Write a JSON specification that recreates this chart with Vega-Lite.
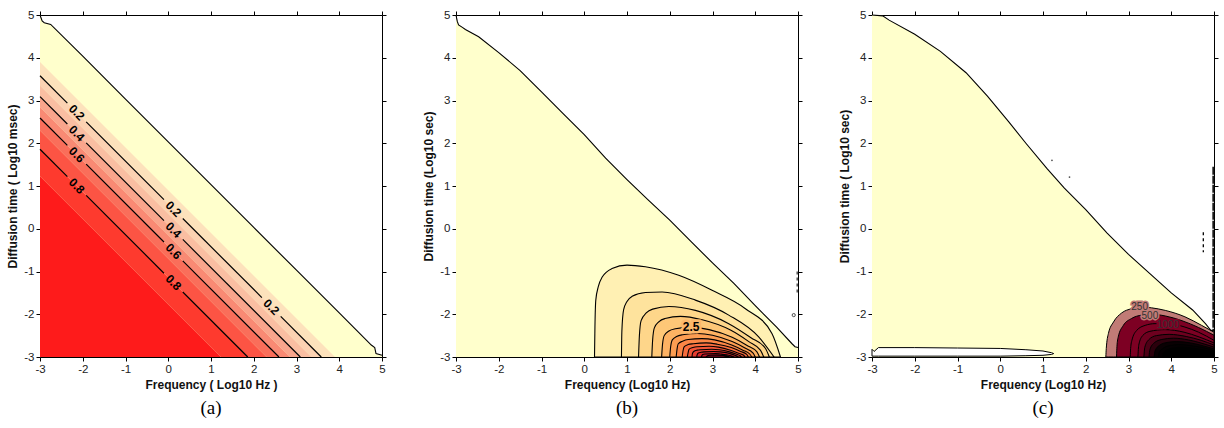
{
  "$schema": "https://vega.github.io/schema/vega-lite/v6.json",
  "bounds": "flush",
  "spacing": 74,
  "padding": {"left": 6, "top": 9, "right": 0, "bottom": 0},
  "background": "white",
  "config": {
    "view": {"stroke": null},
    "axis": {"grid": false, "zindex": 1, "domainColor": "#000", "tickColor": "#000", "tickSize": 4, "labelFont": "Liberation Sans", "labelFontSize": 11.5, "labelColor": "#222", "labelPadding": 2, "labelFlush": false, "titleFont": "Liberation Sans", "titleFontSize": 12, "titleFontWeight": "bold", "titleColor": "#111"},
    "text": {"font": "Liberation Sans"}
  },
  "resolve": {"scale": {"color": "independent", "stroke": "independent", "fill": "independent", "x": "independent", "y": "independent"}},
  "datasets": {
    "a_bound": [
      {"x": -3, "y": 5}, {"x": -2.95, "y": 4.86}, {"x": -2.9, "y": 4.82}, {"x": -2.75, "y": 4.78}, {"x": -2, "y": 4.04}, {"x": -1, "y": 3.03}, {"x": 0, "y": 2.03}, {"x": 1, "y": 1.03}, {"x": 2, "y": 0.03}, {"x": 3, "y": -0.97}, {"x": 4, "y": -1.97}, {"x": 4.75, "y": -2.72}, {"x": 4.83, "y": -2.78}, {"x": 4.86, "y": -2.92}, {"x": 5, "y": -2.96}
    ],
    "a_bands": [
      {"x": -3, "y": 3.9, "y2": 3.58, "band": "b1"}, {"x": 3.58, "y": -2.68, "y2": -3, "band": "b1"}, {"x": 3.9, "y": -3, "y2": -3, "band": "b1"},
      {"x": -3, "y": 3.58, "y2": 3.35, "band": "b2"}, {"x": 3.35, "y": -2.77, "y2": -3, "band": "b2"}, {"x": 3.58, "y": -3, "y2": -3, "band": "b2"},
      {"x": -3, "y": 3.35, "y2": 3.09, "band": "b3"}, {"x": 3.09, "y": -2.74, "y2": -3, "band": "b3"}, {"x": 3.35, "y": -3, "y2": -3, "band": "b3"},
      {"x": -3, "y": 3.09, "y2": 2.85, "band": "b4"}, {"x": 2.85, "y": -2.76, "y2": -3, "band": "b4"}, {"x": 3.09, "y": -3, "y2": -3, "band": "b4"},
      {"x": -3, "y": 2.85, "y2": 2.59, "band": "b5"}, {"x": 2.59, "y": -2.74, "y2": -3, "band": "b5"}, {"x": 2.85, "y": -3, "y2": -3, "band": "b5"},
      {"x": -3, "y": 2.59, "y2": 2.3, "band": "b6"}, {"x": 2.3, "y": -2.71, "y2": -3, "band": "b6"}, {"x": 2.59, "y": -3, "y2": -3, "band": "b6"},
      {"x": -3, "y": 2.3, "y2": 1.86, "band": "b7"}, {"x": 1.86, "y": -2.56, "y2": -3, "band": "b7"}, {"x": 2.3, "y": -3, "y2": -3, "band": "b7"},
      {"x": -3, "y": 1.86, "y2": 1.23, "band": "b8"}, {"x": 1.23, "y": -2.37, "y2": -3, "band": "b8"}, {"x": 1.86, "y": -3, "y2": -3, "band": "b8"},
      {"x": -3, "y": 1.23, "y2": -3, "band": "b9"}, {"x": 1.23, "y": -3, "y2": -3, "band": "b9"}
    ],
    "a_lines": [
      {"x": -3, "y": 3.58, "seg": "s1a"}, {"x": -2.36, "y": 2.94, "seg": "s1a"},
      {"x": -1.92, "y": 2.5, "seg": "s1b"}, {"x": -0.1, "y": 0.68, "seg": "s1b"},
      {"x": 0.34, "y": 0.24, "seg": "s1c"}, {"x": 2.19, "y": -1.61, "seg": "s1c"},
      {"x": 2.63, "y": -2.05, "seg": "s1d"}, {"x": 3.58, "y": -3, "seg": "s1d"},
      {"x": -3, "y": 3.09, "seg": "s2a"}, {"x": -2.36, "y": 2.45, "seg": "s2a"},
      {"x": -1.92, "y": 2.01, "seg": "s2b"}, {"x": -0.1, "y": 0.19, "seg": "s2b"},
      {"x": 0.34, "y": -0.25, "seg": "s2c"}, {"x": 3.09, "y": -3, "seg": "s2c"},
      {"x": -3, "y": 2.59, "seg": "s3a"}, {"x": -2.36, "y": 1.95, "seg": "s3a"},
      {"x": -1.92, "y": 1.51, "seg": "s3b"}, {"x": -0.1, "y": -0.31, "seg": "s3b"},
      {"x": 0.34, "y": -0.75, "seg": "s3c"}, {"x": 2.59, "y": -3, "seg": "s3c"},
      {"x": -3, "y": 1.86, "seg": "s4a"}, {"x": -2.36, "y": 1.22, "seg": "s4a"},
      {"x": -1.92, "y": 0.78, "seg": "s4b"}, {"x": -0.1, "y": -1.04, "seg": "s4b"},
      {"x": 0.34, "y": -1.48, "seg": "s4c"}, {"x": 1.86, "y": -3, "seg": "s4c"}
    ],
    "a_labels": [
      {"x": -2.14, "y": 2.72, "t": "0.2"}, {"x": 0.12, "y": 0.46, "t": "0.2"}, {"x": 2.41, "y": -1.83, "t": "0.2"},
      {"x": -2.14, "y": 2.23, "t": "0.4"}, {"x": 0.12, "y": -0.03, "t": "0.4"},
      {"x": -2.14, "y": 1.73, "t": "0.6"}, {"x": 0.12, "y": -0.53, "t": "0.6"},
      {"x": -2.14, "y": 1.0, "t": "0.8"}, {"x": 0.12, "y": -1.26, "t": "0.8"}
    ],
    "b_bound": [
      {"x": -3, "y": 5}, {"x": -2.97, "y": 4.85}, {"x": -2.94, "y": 4.77}, {"x": -2.85, "y": 4.71}, {"x": -2.78, "y": 4.66}, {"x": -2.47, "y": 4.49}, {"x": -2.0, "y": 4.12}, {"x": -1.5, "y": 3.7}, {"x": -1.0, "y": 3.2}, {"x": -0.5, "y": 2.7}, {"x": 0, "y": 2.2}, {"x": 0.5, "y": 1.65}, {"x": 1.0, "y": 1.15}, {"x": 1.5, "y": 0.67}, {"x": 2.0, "y": 0.2}, {"x": 2.5, "y": -0.3}, {"x": 3.0, "y": -0.8}, {"x": 3.5, "y": -1.28}, {"x": 4.0, "y": -1.8}, {"x": 4.5, "y": -2.3}, {"x": 4.86, "y": -2.69}, {"x": 4.93, "y": -2.76}, {"x": 5, "y": -2.78}
    ],
    "b_cont": [
      {"x": 0.24, "y": -3, "lvl": "c01"}, {"x": 0.25, "y": -2.3, "lvl": "c01"}, {"x": 0.27, "y": -1.67, "lvl": "c01"}, {"x": 0.33, "y": -1.35, "lvl": "c01"}, {"x": 0.42, "y": -1.13, "lvl": "c01"}, {"x": 0.65, "y": -0.93, "lvl": "c01"}, {"x": 1.0, "y": -0.85, "lvl": "c01"}, {"x": 1.43, "y": -0.89, "lvl": "c01"}, {"x": 2.21, "y": -1.09, "lvl": "c01"}, {"x": 2.99, "y": -1.44, "lvl": "c01"}, {"x": 3.77, "y": -1.87, "lvl": "c01"}, {"x": 4.39, "y": -2.45, "lvl": "c01"}, {"x": 4.59, "y": -3, "lvl": "c01"},
      {"x": 0.87, "y": -3, "lvl": "c02"}, {"x": 0.88, "y": -2.4, "lvl": "c02"}, {"x": 0.92, "y": -1.9, "lvl": "c02"}, {"x": 1.0, "y": -1.7, "lvl": "c02"}, {"x": 1.12, "y": -1.58, "lvl": "c02"}, {"x": 1.43, "y": -1.49, "lvl": "c02"}, {"x": 1.82, "y": -1.48, "lvl": "c02"}, {"x": 2.6, "y": -1.67, "lvl": "c02"}, {"x": 3.38, "y": -2.02, "lvl": "c02"}, {"x": 4.08, "y": -2.53, "lvl": "c02"}, {"x": 4.44, "y": -3, "lvl": "c02"},
      {"x": 1.27, "y": -3, "lvl": "c03"}, {"x": 1.29, "y": -2.5, "lvl": "c03"}, {"x": 1.33, "y": -2.15, "lvl": "c03"}, {"x": 1.45, "y": -1.97, "lvl": "c03"}, {"x": 1.6, "y": -1.88, "lvl": "c03"}, {"x": 1.98, "y": -1.82, "lvl": "c03"}, {"x": 2.6, "y": -1.91, "lvl": "c03"}, {"x": 3.38, "y": -2.22, "lvl": "c03"}, {"x": 3.9, "y": -2.55, "lvl": "c03"}, {"x": 4.24, "y": -2.8, "lvl": "c03"}, {"x": 4.33, "y": -3, "lvl": "c03"},
      {"x": 1.58, "y": -3, "lvl": "c04"}, {"x": 1.6, "y": -2.6, "lvl": "c04"}, {"x": 1.64, "y": -2.32, "lvl": "c04"}, {"x": 1.75, "y": -2.17, "lvl": "c04"}, {"x": 1.89, "y": -2.1, "lvl": "c04"}, {"x": 2.25, "y": -2.05, "lvl": "c04"}, {"x": 2.76, "y": -2.13, "lvl": "c04"}, {"x": 3.42, "y": -2.37, "lvl": "c04"}, {"x": 3.85, "y": -2.64, "lvl": "c04"}, {"x": 4.12, "y": -2.84, "lvl": "c04"}, {"x": 4.2, "y": -3, "lvl": "c04"},
      {"x": 1.81, "y": -3, "lvl": "c05"}, {"x": 1.83, "y": -2.71, "lvl": "c05"}, {"x": 1.87, "y": -2.5, "lvl": "c05"}, {"x": 1.98, "y": -2.39, "lvl": "c05"}, {"x": 2.13, "y": -2.34, "lvl": "c05"}, {"x": 2.5, "y": -2.3, "lvl": "c05"}, {"x": 2.92, "y": -2.36, "lvl": "c05"}, {"x": 3.46, "y": -2.54, "lvl": "c05"}, {"x": 3.81, "y": -2.73, "lvl": "c05"}, {"x": 4.04, "y": -2.88, "lvl": "c05"}, {"x": 4.1, "y": -3, "lvl": "c05"},
      {"x": 2.0, "y": -3, "lvl": "c06"}, {"x": 2.02, "y": -2.77, "lvl": "c06"}, {"x": 2.06, "y": -2.6, "lvl": "c06"}, {"x": 2.16, "y": -2.52, "lvl": "c06"}, {"x": 2.3, "y": -2.48, "lvl": "c06"}, {"x": 2.65, "y": -2.45, "lvl": "c06"}, {"x": 3.0, "y": -2.49, "lvl": "c06"}, {"x": 3.46, "y": -2.64, "lvl": "c06"}, {"x": 3.76, "y": -2.79, "lvl": "c06"}, {"x": 3.95, "y": -2.91, "lvl": "c06"}, {"x": 4.0, "y": -3, "lvl": "c06"},
      {"x": 2.15, "y": -3, "lvl": "c07"}, {"x": 2.17, "y": -2.82, "lvl": "c07"}, {"x": 2.2, "y": -2.69, "lvl": "c07"}, {"x": 2.3, "y": -2.63, "lvl": "c07"}, {"x": 2.43, "y": -2.59, "lvl": "c07"}, {"x": 2.75, "y": -2.57, "lvl": "c07"}, {"x": 3.05, "y": -2.6, "lvl": "c07"}, {"x": 3.45, "y": -2.72, "lvl": "c07"}, {"x": 3.71, "y": -2.84, "lvl": "c07"}, {"x": 3.87, "y": -2.93, "lvl": "c07"}, {"x": 3.92, "y": -3, "lvl": "c07"},
      {"x": 2.29, "y": -3, "lvl": "c08"}, {"x": 2.31, "y": -2.86, "lvl": "c08"}, {"x": 2.34, "y": -2.76, "lvl": "c08"}, {"x": 2.43, "y": -2.71, "lvl": "c08"}, {"x": 2.55, "y": -2.69, "lvl": "c08"}, {"x": 2.85, "y": -2.67, "lvl": "c08"}, {"x": 3.11, "y": -2.7, "lvl": "c08"}, {"x": 3.44, "y": -2.78, "lvl": "c08"}, {"x": 3.66, "y": -2.87, "lvl": "c08"}, {"x": 3.8, "y": -2.94, "lvl": "c08"}, {"x": 3.84, "y": -3, "lvl": "c08"},
      {"x": 2.41, "y": -3, "lvl": "c09"}, {"x": 2.43, "y": -2.9, "lvl": "c09"}, {"x": 2.45, "y": -2.82, "lvl": "c09"}, {"x": 2.54, "y": -2.78, "lvl": "c09"}, {"x": 2.64, "y": -2.76, "lvl": "c09"}, {"x": 2.92, "y": -2.75, "lvl": "c09"}, {"x": 3.14, "y": -2.77, "lvl": "c09"}, {"x": 3.42, "y": -2.84, "lvl": "c09"}, {"x": 3.61, "y": -2.91, "lvl": "c09"}, {"x": 3.73, "y": -2.96, "lvl": "c09"}, {"x": 3.76, "y": -3, "lvl": "c09"},
      {"x": 2.52, "y": -3, "lvl": "c10"}, {"x": 2.53, "y": -2.92, "lvl": "c10"}, {"x": 2.56, "y": -2.87, "lvl": "c10"}, {"x": 2.64, "y": -2.84, "lvl": "c10"}, {"x": 2.73, "y": -2.83, "lvl": "c10"}, {"x": 2.98, "y": -2.82, "lvl": "c10"}, {"x": 3.16, "y": -2.83, "lvl": "c10"}, {"x": 3.4, "y": -2.88, "lvl": "c10"}, {"x": 3.55, "y": -2.93, "lvl": "c10"}, {"x": 3.65, "y": -2.97, "lvl": "c10"}, {"x": 3.68, "y": -3, "lvl": "c10"},
      {"x": 2.63, "y": -3, "lvl": "c11"}, {"x": 2.64, "y": -2.95, "lvl": "c11"}, {"x": 2.66, "y": -2.91, "lvl": "c11"}, {"x": 2.73, "y": -2.89, "lvl": "c11"}, {"x": 2.81, "y": -2.88, "lvl": "c11"}, {"x": 3.03, "y": -2.87, "lvl": "c11"}, {"x": 3.18, "y": -2.88, "lvl": "c11"}, {"x": 3.37, "y": -2.91, "lvl": "c11"}, {"x": 3.5, "y": -2.95, "lvl": "c11"}, {"x": 3.58, "y": -2.98, "lvl": "c11"}, {"x": 3.6, "y": -3, "lvl": "c11"},
      {"x": 2.74, "y": -3, "lvl": "c12"}, {"x": 2.75, "y": -2.97, "lvl": "c12"}, {"x": 2.77, "y": -2.94, "lvl": "c12"}, {"x": 2.82, "y": -2.93, "lvl": "c12"}, {"x": 3.07, "y": -2.92, "lvl": "c12"}, {"x": 3.18, "y": -2.93, "lvl": "c12"}, {"x": 3.33, "y": -2.95, "lvl": "c12"}, {"x": 3.48, "y": -2.99, "lvl": "c12"}, {"x": 3.5, "y": -3, "lvl": "c12"},
      {"x": 2.85, "y": -3, "lvl": "c13"}, {"x": 2.88, "y": -2.97, "lvl": "c13"}, {"x": 2.95, "y": -2.96, "lvl": "c13"}, {"x": 3.1, "y": -2.955, "lvl": "c13"}, {"x": 3.25, "y": -2.965, "lvl": "c13"}, {"x": 3.35, "y": -2.98, "lvl": "c13"}, {"x": 3.4, "y": -3, "lvl": "c13"}
    ],
    "b_label": [{"x": 2.5, "y": -2.3, "t": "2.5"}],
    "b_dot": [{"x": 4.9, "y": -2.02}],
    "b_dash": [{"x": 4.98, "y": -1.0}, {"x": 4.98, "y": -1.5}],
    "c_bound": [
      {"x": -3, "y": 5}, {"x": -2.75, "y": 4.98}, {"x": -2.6, "y": 4.88}, {"x": -2.0, "y": 4.55}, {"x": -1.4, "y": 4.15}, {"x": -0.8, "y": 3.65}, {"x": -0.3, "y": 3.1}, {"x": 0.2, "y": 2.5}, {"x": 0.6, "y": 2.0}, {"x": 1.1, "y": 1.4}, {"x": 1.5, "y": 0.95}, {"x": 2.0, "y": 0.45}, {"x": 2.5, "y": -0.1}, {"x": 3.0, "y": -0.6}, {"x": 3.5, "y": -1.05}, {"x": 4.0, "y": -1.5}, {"x": 4.5, "y": -1.9}, {"x": 4.8, "y": -2.22}, {"x": 4.92, "y": -2.37}, {"x": 5, "y": -2.4}
    ],
    "c_cont": [
      {"x": 2.47, "y": -3, "lvl": "k01"}, {"x": 2.48, "y": -2.8, "lvl": "k01"}, {"x": 2.53, "y": -2.45, "lvl": "k01"}, {"x": 2.65, "y": -2.18, "lvl": "k01"}, {"x": 2.84, "y": -1.97, "lvl": "k01"}, {"x": 3.07, "y": -1.87, "lvl": "k01"}, {"x": 3.31, "y": -1.83, "lvl": "k01"}, {"x": 3.54, "y": -1.85, "lvl": "k01"}, {"x": 3.86, "y": -1.91, "lvl": "k01"}, {"x": 4.32, "y": -2.06, "lvl": "k01"}, {"x": 4.71, "y": -2.26, "lvl": "k01"}, {"x": 5, "y": -2.42, "lvl": "k01"},
      {"x": 2.72, "y": -3, "lvl": "k02"}, {"x": 2.73, "y": -2.75, "lvl": "k02"}, {"x": 2.76, "y": -2.53, "lvl": "k02"}, {"x": 2.88, "y": -2.26, "lvl": "k02"}, {"x": 3.07, "y": -2.1, "lvl": "k02"}, {"x": 3.31, "y": -2.02, "lvl": "k02"}, {"x": 3.54, "y": -2.0, "lvl": "k02"}, {"x": 3.86, "y": -2.04, "lvl": "k02"}, {"x": 4.25, "y": -2.15, "lvl": "k02"}, {"x": 4.64, "y": -2.31, "lvl": "k02"}, {"x": 5, "y": -2.49, "lvl": "k02"},
      {"x": 3.04, "y": -3, "lvl": "k03"}, {"x": 3.05, "y": -2.8, "lvl": "k03"}, {"x": 3.08, "y": -2.61, "lvl": "k03"}, {"x": 3.19, "y": -2.38, "lvl": "k03"}, {"x": 3.39, "y": -2.26, "lvl": "k03"}, {"x": 3.62, "y": -2.22, "lvl": "k03"}, {"x": 3.93, "y": -2.22, "lvl": "k03"}, {"x": 4.32, "y": -2.3, "lvl": "k03"}, {"x": 4.64, "y": -2.42, "lvl": "k03"}, {"x": 5, "y": -2.61, "lvl": "k03"},
      {"x": 3.22, "y": -3, "lvl": "k04"}, {"x": 3.24, "y": -2.72, "lvl": "k04"}, {"x": 3.33, "y": -2.5, "lvl": "k04"}, {"x": 3.5, "y": -2.4, "lvl": "k04"}, {"x": 3.85, "y": -2.36, "lvl": "k04"}, {"x": 4.3, "y": -2.42, "lvl": "k04"}, {"x": 4.65, "y": -2.53, "lvl": "k04"}, {"x": 5, "y": -2.67, "lvl": "k04"},
      {"x": 3.36, "y": -3, "lvl": "k05"}, {"x": 3.38, "y": -2.78, "lvl": "k05"}, {"x": 3.47, "y": -2.6, "lvl": "k05"}, {"x": 3.65, "y": -2.5, "lvl": "k05"}, {"x": 3.95, "y": -2.47, "lvl": "k05"}, {"x": 4.35, "y": -2.52, "lvl": "k05"}, {"x": 4.7, "y": -2.61, "lvl": "k05"}, {"x": 5, "y": -2.72, "lvl": "k05"},
      {"x": 3.48, "y": -3, "lvl": "k06"}, {"x": 3.5, "y": -2.83, "lvl": "k06"}, {"x": 3.6, "y": -2.67, "lvl": "k06"}, {"x": 3.78, "y": -2.59, "lvl": "k06"}, {"x": 4.05, "y": -2.56, "lvl": "k06"}, {"x": 4.4, "y": -2.6, "lvl": "k06"}, {"x": 4.72, "y": -2.68, "lvl": "k06"}, {"x": 5, "y": -2.77, "lvl": "k06"},
      {"x": 3.6, "y": -3, "lvl": "k07"}, {"x": 3.62, "y": -2.86, "lvl": "k07"}, {"x": 3.72, "y": -2.73, "lvl": "k07"}, {"x": 3.9, "y": -2.66, "lvl": "k07"}, {"x": 4.12, "y": -2.64, "lvl": "k07"}, {"x": 4.45, "y": -2.67, "lvl": "k07"}, {"x": 4.75, "y": -2.74, "lvl": "k07"}, {"x": 5, "y": -2.81, "lvl": "k07"},
      {"x": 3.7, "y": -3, "lvl": "k08"}, {"x": 3.72, "y": -2.89, "lvl": "k08"}, {"x": 3.82, "y": -2.79, "lvl": "k08"}, {"x": 3.98, "y": -2.73, "lvl": "k08"}, {"x": 4.2, "y": -2.71, "lvl": "k08"}, {"x": 4.5, "y": -2.74, "lvl": "k08"}, {"x": 4.78, "y": -2.79, "lvl": "k08"}, {"x": 5, "y": -2.85, "lvl": "k08"},
      {"x": 3.8, "y": -3, "lvl": "k09"}, {"x": 3.82, "y": -2.91, "lvl": "k09"}, {"x": 3.92, "y": -2.83, "lvl": "k09"}, {"x": 4.06, "y": -2.79, "lvl": "k09"}, {"x": 4.26, "y": -2.77, "lvl": "k09"}, {"x": 4.55, "y": -2.8, "lvl": "k09"}, {"x": 5, "y": -2.88, "lvl": "k09"},
      {"x": 3.88, "y": -3, "lvl": "k10"}, {"x": 3.9, "y": -2.93, "lvl": "k10"}, {"x": 4.0, "y": -2.87, "lvl": "k10"}, {"x": 4.15, "y": -2.84, "lvl": "k10"}, {"x": 4.32, "y": -2.83, "lvl": "k10"}, {"x": 4.6, "y": -2.85, "lvl": "k10"}, {"x": 5, "y": -2.91, "lvl": "k10"},
      {"x": 3.96, "y": -3, "lvl": "k11"}, {"x": 4.0, "y": -2.93, "lvl": "k11"}, {"x": 4.12, "y": -2.89, "lvl": "k11"}, {"x": 4.35, "y": -2.88, "lvl": "k11"}, {"x": 4.65, "y": -2.9, "lvl": "k11"}, {"x": 5, "y": -2.94, "lvl": "k11"}
    ],
    "c_lens": [
      {"x": -3, "y": -2.82, "y2": -2.98}, {"x": -2.95, "y": -2.87, "y2": -2.98}, {"x": -2.85, "y": -2.78, "y2": -2.98}, {"x": -2, "y": -2.78, "y2": -2.98}, {"x": -1, "y": -2.79, "y2": -2.98}, {"x": 0, "y": -2.8, "y2": -2.98}, {"x": 0.6, "y": -2.83, "y2": -2.97}, {"x": 1.0, "y": -2.86, "y2": -2.96}, {"x": 1.2, "y": -2.9, "y2": -2.94}, {"x": 1.25, "y": -2.92, "y2": -2.92}
    ],
    "c_labels": [{"x": 3.26, "y": -1.83, "t": "250"}, {"x": 3.5, "y": -2.04, "t": "500"}, {"x": 3.92, "y": -2.24, "t": "1000"}],
    "c_dots": [{"x": 1.21, "y": 1.6}, {"x": 1.62, "y": 1.21}],
    "c_edge": [{"x": 4.98, "y": 1.45}, {"x": 4.98, "y": -2.4}],
    "c_dash": [{"x": 4.75, "y": -0.08}, {"x": 4.75, "y": -0.55}]
  },
  "hconcat": [
    {
      "width": 342, "height": 342,
      "title": {"text": "(a)", "orient": "bottom", "font": "Liberation Serif", "fontSize": 19, "fontWeight": "normal", "color": "#000", "offset": 8},
      "resolve": {"axis": {"x": "independent", "y": "independent"}},
      "layer": [
        {
          "encoding": {
            "x": {"field": "x", "type": "quantitative", "scale": {"domain": [-3, 5], "nice": false, "zero": false}, "axis": {"title": "Frequency ( Log10 Hz )", "values": [-3, -2, -1, 0, 1, 2, 3, 4, 5], "labelExpr": "'' + datum.value", "titlePadding": 5}},
            "y": {"field": "y", "type": "quantitative", "scale": {"domain": [-3, 5], "nice": false, "zero": false}, "axis": {"title": "Diffusion time ( Log10 msec)", "values": [-3, -2, -1, 0, 1, 2, 3, 4, 5], "labelExpr": "'' + datum.value", "titlePadding": 4}}
          },
          "layer": [
            {"data": {"name": "a_bound"}, "mark": {"type": "area", "color": "#FFFFCC"}, "encoding": {"y2": {"datum": -3}}},
            {"data": {"name": "a_bands"}, "mark": {"type": "area"}, "encoding": {"y2": {"field": "y2"}, "color": {"field": "band", "type": "nominal", "legend": null, "scale": {"domain": ["b1", "b2", "b3", "b4", "b5", "b6", "b7", "b8", "b9"], "range": ["#FDE2BC", "#FCD2B2", "#FABEA2", "#F9A58C", "#F98A74", "#FA6E5A", "#FC5444", "#FE3A2E", "#FE1B1B"]}}}},
            {"data": {"name": "a_lines"}, "mark": {"type": "line", "color": "#000", "strokeWidth": 1.2}, "encoding": {"detail": {"field": "seg"}}},
            {"data": {"name": "a_bound"}, "mark": {"type": "line", "color": "#000", "strokeWidth": 1.1}, "encoding": {}},
            {"data": {"name": "a_labels"}, "mark": {"type": "text", "angle": 45, "fontWeight": "bold", "fontSize": 12, "color": "#000", "align": "center", "baseline": "middle"}, "encoding": {"text": {"field": "t"}}}
          ]
        },
        {
          "data": {"name": "a_bound"},
          "mark": {"type": "point", "opacity": 0},
          "encoding": {
            "x": {"field": "x", "type": "quantitative", "scale": {"domain": [-3, 5], "nice": false, "zero": false}, "axis": {"orient": "top", "title": null, "labels": false, "values": [-3, -2, -1, 0, 1, 2, 3, 4, 5]}},
            "y": {"field": "y", "type": "quantitative", "scale": {"domain": [-3, 5], "nice": false, "zero": false}, "axis": {"orient": "right", "title": null, "labels": false, "values": [-3, -2, -1, 0, 1, 2, 3, 4, 5]}}
          }
        }
      ]
    },
    {
      "width": 342, "height": 342,
      "title": {"text": "(b)", "orient": "bottom", "font": "Liberation Serif", "fontSize": 19, "fontWeight": "normal", "color": "#000", "offset": 8},
      "resolve": {"axis": {"x": "independent", "y": "independent"}},
      "layer": [
        {
          "encoding": {
            "x": {"field": "x", "type": "quantitative", "scale": {"domain": [-3, 5], "nice": false, "zero": false}, "axis": {"title": "Frequency (Log10 Hz)", "values": [-3, -2, -1, 0, 1, 2, 3, 4, 5], "labelExpr": "'' + datum.value", "titlePadding": 5}},
            "y": {"field": "y", "type": "quantitative", "scale": {"domain": [-3, 5], "nice": false, "zero": false}, "axis": {"title": "Diffusion time (Log10 sec)", "values": [-3, -2, -1, 0, 1, 2, 3, 4, 5], "labelExpr": "'' + datum.value", "titlePadding": 4}}
          },
          "layer": [
            {"data": {"name": "b_bound"}, "mark": {"type": "area", "color": "#FFFFCC"}, "encoding": {"y2": {"datum": -3}}},
            {"data": {"name": "b_cont"}, "mark": {"type": "area", "stroke": "#000", "strokeWidth": 1.1, "interpolate": "monotone"}, "encoding": {"y2": {"datum": -3}, "color": {"field": "lvl", "type": "nominal", "legend": null, "scale": {"domain": ["c01", "c02", "c03", "c04", "c05", "c06", "c07", "c08", "c09", "c10", "c11", "c12", "c13"], "range": ["#FFF0B3", "#FEE39D", "#FED68A", "#FEC777", "#FDB263", "#FC9D52", "#FB8646", "#F86D3D", "#F25537", "#E73D30", "#D8262A", "#C51427", "#AE0526"]}}}},
            {"data": {"name": "b_bound"}, "mark": {"type": "line", "color": "#000", "strokeWidth": 1.1}, "encoding": {}},
            {"data": {"name": "b_dash"}, "mark": {"type": "line", "color": "#000", "strokeWidth": 1, "strokeDash": [3, 3]}, "encoding": {}},
            {"data": {"name": "b_dot"}, "mark": {"type": "point", "shape": "circle", "size": 10, "filled": false, "stroke": "#000", "strokeWidth": 1}, "encoding": {}},
            {"data": {"name": "b_label"}, "mark": {"type": "text", "fontWeight": "bold", "fontSize": 12, "stroke": "#FDB86A", "strokeWidth": 5, "fill": "#FDB86A", "align": "center", "baseline": "middle"}, "encoding": {"text": {"field": "t"}}},
            {"data": {"name": "b_label"}, "mark": {"type": "text", "fontWeight": "bold", "fontSize": 12, "color": "#000", "align": "center", "baseline": "middle"}, "encoding": {"text": {"field": "t"}}}
          ]
        },
        {
          "data": {"name": "b_bound"},
          "mark": {"type": "point", "opacity": 0},
          "encoding": {
            "x": {"field": "x", "type": "quantitative", "scale": {"domain": [-3, 5], "nice": false, "zero": false}, "axis": {"orient": "top", "title": null, "labels": false, "values": [-3, -2, -1, 0, 1, 2, 3, 4, 5]}},
            "y": {"field": "y", "type": "quantitative", "scale": {"domain": [-3, 5], "nice": false, "zero": false}, "axis": {"orient": "right", "title": null, "labels": false, "values": [-3, -2, -1, 0, 1, 2, 3, 4, 5]}}
          }
        }
      ]
    },
    {
      "width": 342, "height": 342,
      "title": {"text": "(c)", "orient": "bottom", "font": "Liberation Serif", "fontSize": 19, "fontWeight": "normal", "color": "#000", "offset": 8},
      "resolve": {"axis": {"x": "independent", "y": "independent"}},
      "layer": [
        {
          "encoding": {
            "x": {"field": "x", "type": "quantitative", "scale": {"domain": [-3, 5], "nice": false, "zero": false}, "axis": {"title": "Frequency (Log10 Hz)", "values": [-3, -2, -1, 0, 1, 2, 3, 4, 5], "labelExpr": "'' + datum.value", "titlePadding": 5}},
            "y": {"field": "y", "type": "quantitative", "scale": {"domain": [-3, 5], "nice": false, "zero": false}, "axis": {"title": "Diffusion time ( Log10 sec)", "values": [-3, -2, -1, 0, 1, 2, 3, 4, 5], "labelExpr": "'' + datum.value", "titlePadding": 4}}
          },
          "layer": [
            {"data": {"name": "c_bound"}, "mark": {"type": "area", "color": "#FFFFCC"}, "encoding": {"y2": {"datum": -3}}},
            {"data": {"name": "c_cont"}, "mark": {"type": "area", "stroke": "#000", "strokeWidth": 1, "interpolate": "monotone"}, "encoding": {"y2": {"datum": -3}, "color": {"field": "lvl", "type": "nominal", "legend": null, "scale": {"domain": ["k01", "k02", "k03", "k04", "k05", "k06", "k07", "k08", "k09", "k10", "k11"], "range": ["#C17B76", "#7D0023", "#7D0023", "#6E001F", "#4D0016", "#2B000C", "#0A0003", "#050002", "#000000", "#000000", "#000000"]}}}},
            {"data": {"name": "c_lens"}, "mark": {"type": "area", "color": "#FFFFFF", "stroke": "#000", "strokeWidth": 1}, "encoding": {"y2": {"field": "y2"}}},
            {"data": {"name": "c_bound"}, "mark": {"type": "line", "color": "#000", "strokeWidth": 1.1}, "encoding": {}},
            {"data": {"name": "c_edge"}, "mark": {"type": "line", "color": "#000", "strokeWidth": 1.5, "strokeDash": [8, 1]}, "encoding": {}},
            {"data": {"name": "c_dash"}, "mark": {"type": "line", "color": "#000", "strokeWidth": 1.3, "strokeDash": [3, 3]}, "encoding": {}},
            {"data": {"name": "c_dots"}, "mark": {"type": "point", "shape": "circle", "size": 3, "filled": true, "color": "#000"}, "encoding": {}},
            {"data": {"name": "c_labels"}, "mark": {"type": "text", "fontSize": 10, "strokeWidth": 3, "align": "center", "baseline": "middle"}, "encoding": {"text": {"field": "t"}, "stroke": {"field": "t", "type": "nominal", "legend": null, "scale": {"domain": ["250", "500", "1000"], "range": ["#C17B76", "#C17B76", "#7D0023"]}}, "fill": {"field": "t", "type": "nominal", "legend": null, "scale": {"domain": ["250", "500", "1000"], "range": ["#C17B76", "#C17B76", "#7D0023"]}}}},
            {"data": {"name": "c_labels"}, "mark": {"type": "text", "fontSize": 10, "color": "#333", "align": "center", "baseline": "middle"}, "encoding": {"text": {"field": "t"}}}
          ]
        },
        {
          "data": {"name": "c_bound"},
          "mark": {"type": "point", "opacity": 0},
          "encoding": {
            "x": {"field": "x", "type": "quantitative", "scale": {"domain": [-3, 5], "nice": false, "zero": false}, "axis": {"orient": "top", "title": null, "labels": false, "values": [-3, -2, -1, 0, 1, 2, 3, 4, 5]}},
            "y": {"field": "y", "type": "quantitative", "scale": {"domain": [-3, 5], "nice": false, "zero": false}, "axis": {"orient": "right", "title": null, "labels": false, "values": [-3, -2, -1, 0, 1, 2, 3, 4, 5]}}
          }
        }
      ]
    }
  ]
}
